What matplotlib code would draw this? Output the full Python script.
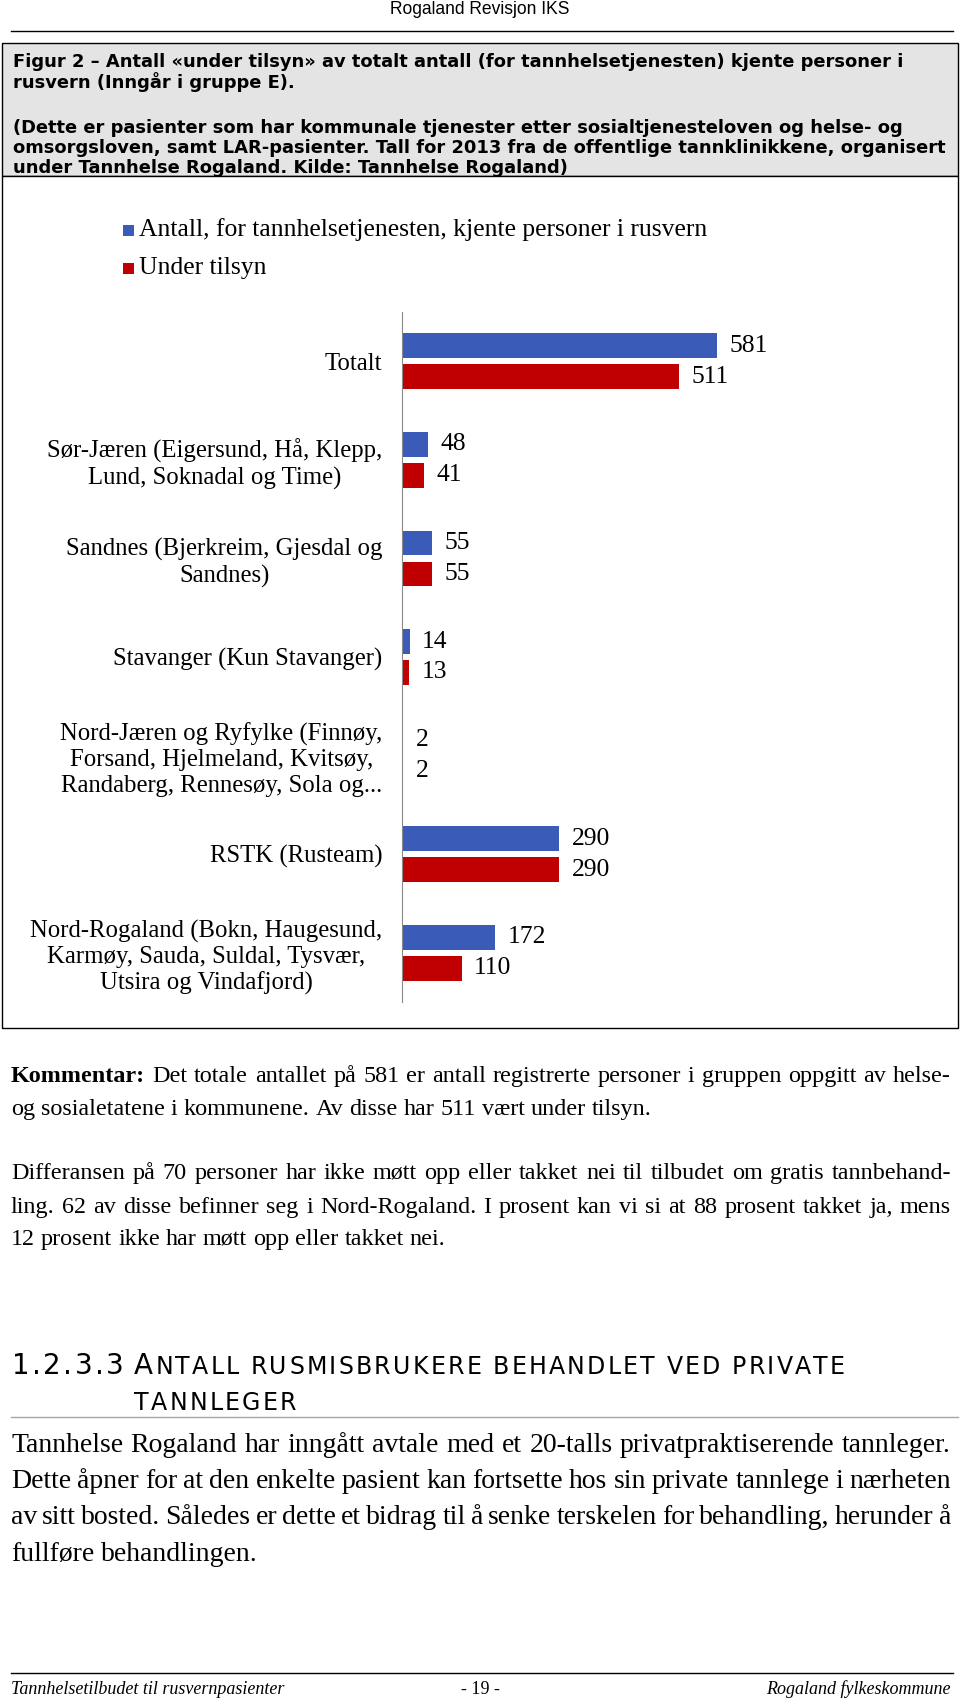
import matplotlib
matplotlib.use("Agg")
import matplotlib.pyplot as plt
from matplotlib.patches import Rectangle

# ---- data ----
categories = [
    "Totalt",
    "Sør-Jæren (Eigersund, Hå, Klepp,\nLund, Soknadal og Time)",
    "Sandnes (Bjerkreim, Gjesdal og\nSandnes)",
    "Stavanger (Kun Stavanger)",
    "Nord-Jæren og Ryfylke (Finnøy,\nForsand, Hjelmeland, Kvitsøy,\nRandaberg, Rennesøy, Sola og...",
    "RSTK (Rusteam)",
    "Nord-Rogaland (Bokn, Haugesund,\nKarmøy, Sauda, Suldal, Tysvær,\nUtsira og Vindafjord)",
]
kjente = [581, 48, 55, 14, 2, 290, 172]
tilsyn = [511, 41, 55, 13, 2, 290, 110]
series_names = ["Antall, for tannhelsetjenesten, kjente personer i rusvern", "Under tilsyn"]
series_colors = ["#3A5CB8", "#C00000"]

caption_lines = [
    "Figur 2 \u2013 Antall «under tilsyn» av totalt antall (for tannhelsetjenesten) kjente personer i",
    "rusvern (Inngår i gruppe E).",
    "",
    "(Dette er pasienter som har kommunale tjenester etter sosialtjenesteloven og helse- og",
    "omsorgsloven, samt LAR-pasienter. Tall for 2013 fra de offentlige tannklinikkene, organisert",
    "under Tannhelse Rogaland. Kilde: Tannhelse Rogaland)",
]
comment_lines = [
    ("Kommentar: Det totale antallet på 581 er antall registrerte personer i gruppen oppgitt av helse-", True),
    ("og sosialetatene i kommunene. Av disse har 511 vært under tilsyn.", False),
    ("Differansen på 70 personer har ikke møtt opp eller takket nei til tilbudet om gratis tannbehand-", True),
    ("ling. 62 av disse befinner seg i  Nord-Rogaland. I prosent kan vi si at 88 prosent takket ja, mens", True),
    ("12 prosent ikke har møtt opp eller takket nei.", False),
]
heading_num = "1.2.3.3"
heading_lines = ["ANTALL RUSMISBRUKERE BEHANDLET VED PRIVATE", "TANNLEGER"]
body_lines = [
    ("Tannhelse Rogaland har inngått avtale med et 20-talls privatpraktiserende tannleger.", True),
    ("Dette åpner for at den enkelte pasient kan fortsette hos sin private tannlege i nærheten", True),
    ("av sitt bosted. Således er dette et bidrag til å senke terskelen for behandling, herunder å", True),
    ("fullføre behandlingen.", False),
]
footer = ["Tannhelsetilbudet til rusvernpasienter", "- 19 -", "Rogaland fylkeskommune"]

SERIF = ["Liberation Serif", "DejaVu Serif"]
SANS = ["Liberation Sans", "DejaVu Sans"]
BOX = ["DejaVu Sans"]
HEAD = ["DejaVu Sans"]

fig = plt.figure(figsize=(9.6, 17.03), dpi=100)
page = fig.add_axes([0, 0, 1, 1])
page.set_xlim(0, 960)
page.set_ylim(1703, 0)
page.axis("off")
renderer = fig.canvas.get_renderer()


def text_w(s, **kw):
    t = page.text(0, 0, s, **kw)
    w = t.get_window_extent(renderer).width
    t.remove()
    return w


def fit(s, target, **kw):
    return 12 * target / text_w(s, fontsize=12, **kw)


def put_line(line, y, x0, x1, justify, first_bold=False, **kw):
    words = line.split()
    styles = [dict(kw, fontweight="bold") if (first_bold and i == 0) else kw
              for i in range(len(words))]
    widths = [text_w(w, **st) for w, st in zip(words, styles)]
    space = text_w("a a", **kw) - text_w("aa", **kw)
    if justify and len(words) > 1:
        space = (x1 - x0 - sum(widths)) / (len(words) - 1)
    x = x0
    for w, st, wd in zip(words, styles, widths):
        page.text(x, y, w, ha="left", va="baseline", **st)
        x += wd + space


# header
page.text(480, 10, "Rogaland Revisjon IKS", ha="center", va="center",
          family=SANS, fontsize=fit("Rogaland Revisjon IKS", 181, family=SANS))
page.plot([11, 953], [31, 31], color="black", lw=1)

# caption box
page.add_patch(Rectangle((2, 43), 956, 133, facecolor="#e4e4e4", edgecolor="black", lw=1))
page.add_patch(Rectangle((2, 176), 956, 852, facecolor="white", edgecolor="black", lw=1))
cap_size = fit(caption_lines[0], 888, family=BOX, fontweight="bold")
for line, y in zip(caption_lines, [67, 88, 0, 133, 153, 173]):
    if line:
        page.text(13, y, line, ha="left", va="baseline", family=BOX,
                  fontweight="bold", fontsize=cap_size)

# legend
chart_size = fit(series_names[0], 565, family=SERIF)
for name, col, y in zip(series_names, series_colors, [230, 268]):
    page.add_patch(Rectangle((123, y - 5.5), 11, 11, facecolor=col, edgecolor="none"))
    page.text(139, y, name, ha="left", va="center", family=SERIF, fontsize=chart_size)

# chart
ax = fig.add_axes([402 / 960, (1703 - 1002) / 1703, 480 / 960, 690 / 1703])
ax.set_facecolor("none")
pos = list(range(len(categories)))
b1 = ax.barh([p - 0.157 for p in pos], kjente, height=0.25, color=series_colors[0])
b2 = ax.barh([p + 0.157 for p in pos], tilsyn, height=0.25, color=series_colors[1])
for cont in (b1, b2):
    ax.bar_label(cont, padding=9, fontsize=chart_size, family=SERIF)
ax.set_xlim(0, 480 / 0.542)
ax.set_ylim(6.5, -0.5)
ax.set_yticks(pos)
ax.set_yticklabels(categories, fontsize=chart_size * 0.97, family=SERIF)
for lab in ax.get_yticklabels():
    lab.set_multialignment("center")
ax.tick_params(axis="y", length=0, pad=14)
ax.set_xticks([])
for s in ["top", "right", "bottom"]:
    ax.spines[s].set_visible(False)
ax.spines["left"].set_color("#8a8a8a")

# comment paragraph
com_size = fit(comment_lines[4][0], 432, family=SERIF)
for (line, just), y in zip(comment_lines, [1082, 1115, 1179, 1213, 1245]):
    put_line(line, y, 11, 951, just, first_bold=line.startswith("Kommentar"),
             family=SERIF, fontsize=com_size)

# heading: small caps with letter spacing
big, small = 20, 17


def glyph_w(c, s):
    if c == " ":
        return text_w("A A", family=HEAD, fontsize=s) - text_w("AA", family=HEAD, fontsize=s)
    return text_w(c, family=HEAD, fontsize=s)


def tracked(x, y, items, track):
    for c, s in items:
        if c != " ":
            page.text(x, y, c, ha="left", va="baseline", family=HEAD, fontsize=s)
        x += glyph_w(c, s) + track


def track_for(items, x0, x1):
    return (x1 - x0 - sum(glyph_w(c, s) for c, s in items)) / (len(items) - 1)


glyphs = [(c, big if i == 0 else small) for i, c in enumerate(heading_lines[0])]
track = track_for(glyphs, 134, 845)
tracked(134, 1374, glyphs, track)
num_items = [(c, big) for c in heading_num]
tracked(12, 1374, num_items, track_for(num_items, 12, 124))
tracked(134, 1410, [(c, small) for c in heading_lines[1]], track)
page.plot([11, 958], [1417, 1417], color="#a6a6a6", lw=1)

# body text
body_size = fit(body_lines[0][0], 932, family=SERIF)
for (line, just), y in zip(body_lines, [1452, 1488, 1524, 1561]):
    put_line(line, y, 11, 951, just, family=SERIF, fontsize=body_size)

# footer
page.plot([11, 953], [1673, 1673], color="black", lw=1)
foot_size = fit(footer[0], 274, family=SERIF, style="italic")
page.text(11, 1689, footer[0], ha="left", va="center", family=SERIF, style="italic", fontsize=foot_size)
page.text(480, 1689, footer[1], ha="center", va="center", family=SERIF, fontsize=foot_size)
page.text(951, 1689, footer[2], ha="right", va="center", family=SERIF, style="italic", fontsize=foot_size)

fig.savefig("out.png", dpi=100)
